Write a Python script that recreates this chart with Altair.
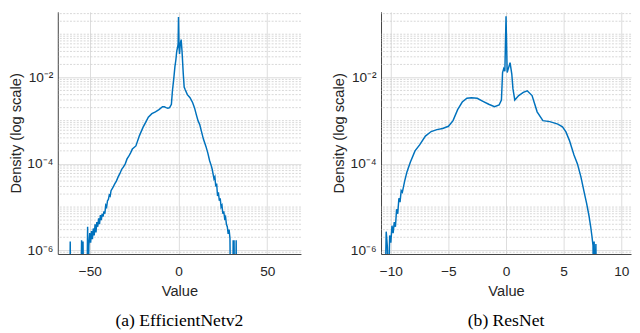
import altair as alt
import pandas as pd

# ---- data ----
eff_value = [-63, -61.2, -61, -60.8, -55, -54.6, -54.2, -53.8, -53.4, -51.6, -51.2, -50.9,
             -50.5, -50, -49.5, -49, -48.5, -48, -47.5, -47, -46.5, -46, -45.5, -45, -44.5,
             -44, -43.5, -43, -42.5, -42, -41.5, -41, -40.5, -40, -39.5, -39, -38.5, -38,
             -37, -36, -35, -34, -33, -32, -31, -30, -29, -28, -27, -26, -24, -22, -20, -18,
             -17, -15, -13, -11, -9, -8, -7, -6, -5, -4, -3.4, -2.7, -2, -1.5, -1, -0.5,
             -0.2, 0, 0.3, 0.6, 1, 1.5, 2, 2.7, 3.2, 3.8, 5, 6.5, 8, 9, 10, 11, 12, 13, 14,
             15.5, 16.5, 17.5, 18.5, 19, 20, 20.5, 21, 21.5, 22, 22.5, 23, 23.5, 24, 24.5,
             25, 25.5, 26, 26.5, 27, 27.5, 28, 28.5, 29, 29.3, 30.6, 30.8, 31, 31.3, 31.6,
             32.3, 32.5, 32.7]
eff_density = [1e-7, 1e-7, 1.6e-6, 1e-7, 1e-7, 1.7e-6, 1e-7, 1.6e-6, 1e-7, 1e-7, 3.5e-6, 1e-7,
               1.3e-6, 2.5e-6, 1.5e-6, 2.8e-6, 1.8e-6, 3.2e-6, 2.2e-6, 4e-6, 2.6e-6, 4.5e-6,
               3.5e-6, 5.5e-6, 4e-6, 6.5e-6, 5e-6, 7e-6, 6e-6, 8e-6, 7e-6, 1.1e-5, 1e-5,
               1.4e-5, 1.5e-5, 1.9e-5, 1.8e-5, 2.4e-5, 2.8e-5, 3.4e-5, 4e-5, 5e-5, 6e-5,
               7.5e-5, 8.5e-5, 1e-4, 1.3e-4, 1.5e-4, 1.8e-4, 2.2e-4, 2.6e-4, 4.5e-4, 7e-4,
               1e-3, 1.2e-3, 1.45e-3, 1.6e-3, 1.8e-3, 2.1e-3, 2.1e-3, 2e-3, 1.95e-3, 2e-3,
               2.4e-3, 5e-3, 9e-3, 0.018, 0.025, 0.04, 0.05, 0.06, 0.25, 0.05, 0.035, 0.06,
               0.075, 0.04, 0.012, 6e-3, 5.2e-3, 4e-3, 3.4e-3, 2.6e-3, 2e-3, 1.4e-3, 1e-3,
               8e-4, 5.5e-4, 3.8e-4, 2.5e-4, 1.8e-4, 1.2e-4, 9e-5, 7.5e-5, 4.5e-5, 5e-5,
               3e-5, 3.5e-5, 1.8e-5, 2.2e-5, 1.4e-5, 1.6e-5, 1e-5, 1.1e-5, 7e-6, 8e-6,
               5.5e-6, 6e-6, 4e-6, 3.5e-6, 2.4e-6, 3e-6, 1.9e-6, 1e-7, 1e-7, 1.7e-6, 1e-7,
               1.7e-6, 1e-7, 1e-7, 1.7e-6, 1e-7]

res_value = [-10.6, -10.5, -10.4, -10.3, -10.2, -10.1, -10.0, -9.9, -9.8, -9.7, -9.6, -9.5,
             -9.4, -9.3, -9.2, -9.1, -9.0, -8.8, -8.6, -8.3, -7.9, -7.5, -7.0, -6.5, -6.0,
             -5.5, -5.0, -4.6, -4.2, -3.8, -3.4, -3.0, -2.5, -2.0, -1.5, -1.0, -0.6, -0.4,
             -0.3, -0.2, -0.1, 0.0, 0.1, 0.2, 0.35, 0.5, 0.6, 0.76, 1.1, 1.5, 1.84, 2.26,
             2.7, 3.2, 3.8, 4.5, 4.9, 5.2, 5.5, 5.9, 6.2, 6.5, 6.8, 7.0, 7.2, 7.35, 7.45,
             7.55, 7.6, 7.65, 7.7, 7.8, 7.85]
res_density = [1e-7, 1e-7, 2.7e-6, 1.2e-6, 1e-7, 2.2e-6, 1.5e-6, 3.7e-6, 2.5e-6, 4.5e-6,
               3.5e-6, 8.9e-6, 7e-6, 1.6e-5, 1.3e-5, 2.4e-5, 2.2e-5, 4e-5, 6.5e-5, 1.1e-4,
               2e-4, 2.75e-4, 4.4e-4, 5.6e-4, 6.2e-4, 6.6e-4, 7.4e-4, 1e-3, 1.8e-3, 2.7e-3,
               3.3e-3, 3.4e-3, 3.3e-3, 2.8e-3, 2.4e-3, 2.1e-3, 2.3e-3, 3e-3, 0.013, 0.016,
               0.014, 0.26, 0.013, 0.016, 0.022, 0.012, 5.5e-3, 3e-3, 3.8e-3, 4.5e-3, 4.9e-3,
               3.8e-3, 1.6e-3, 1e-3, 9.5e-4, 8.3e-4, 7.2e-4, 5.5e-4, 3.5e-4, 1.6e-4, 1e-4,
               5e-5, 2.1e-5, 1.2e-5, 6.3e-6, 3.5e-6, 2.2e-6, 1.3e-6, 1e-7, 1.6e-6, 1e-7,
               1.4e-6, 1e-7]

assert len(eff_value) == len(eff_density)
assert len(res_value) == len(res_density)

y_ticks = [1e-6, 1e-4, 1e-2]
y_tick_labels = ["10⁻⁶", "10⁻⁴", "10⁻²"]
eff_xticks = [-50, 0, 50]
res_xticks = [-10, -5, 0, 5, 10]
captions = ["(a) EfficientNetv2", "(b) ResNet"]

Y_DOMAIN = [8.2e-7, 0.33]
# minor (dotted) log grid positions: every 1..9 x 10^k except the labelled decades
minor_grid = [m * 10.0 ** e for e in range(-7, 0) for m in range(1, 10)]
minor_grid = [g for g in minor_grid
              if Y_DOMAIN[0] <= g <= Y_DOMAIN[1]
              and all(abs(g - t) / t > 1e-6 for t in y_ticks)]

FONT = "Liberation Sans"
TXT = "#262626"
LINE = "#0072BD"

label_expr = " : ".join(
    f"datum.value < {t * 3:g} ? '{lab}'" for t, lab in zip(y_ticks[:-1], y_tick_labels[:-1])
) + f" : '{y_tick_labels[-1]}'"


def panel(xs, ds, xdom, xticks, caption, width):
    df = pd.DataFrame({"Value": xs, "Density": ds})
    gdf = pd.DataFrame({"g": minor_grid})
    yscale = alt.Scale(type="log", domain=Y_DOMAIN, nice=False)
    yaxis = alt.Axis(values=y_ticks, labelExpr=label_expr, title="Density (log scale)",
                     grid=True, gridColor="#dcdcdc", gridWidth=1, ticks=False,
                     domainColor="#404040", domainWidth=1,
                     labelFont=FONT, labelFontSize=14, labelColor=TXT, labelPadding=5,
                     titleFont=FONT, titleFontSize=15, titleFontWeight="normal",
                     titleColor=TXT, titlePadding=4)
    xaxis = alt.Axis(values=xticks, title="Value", grid=True, gridColor="#dcdcdc",
                     gridWidth=1, ticks=False, domainColor="#404040", domainWidth=1,
                     labelFont=FONT, labelFontSize=14, labelColor=TXT, labelPadding=11,
                     titleFont=FONT, titleFontSize=15, titleFontWeight="normal",
                     titleColor=TXT, titlePadding=5)
    xscale = alt.Scale(domain=xdom, nice=False, zero=False)
    rules = alt.Chart(gdf).mark_rule(color="#cdcdcd", strokeDash=[2, 1.5], strokeWidth=0.8).encode(
        y=alt.Y("g:Q", scale=yscale, axis=yaxis)
    )
    line = alt.Chart(df).mark_line(color=LINE, strokeWidth=1.5, clip=True).encode(
        x=alt.X("Value:Q", scale=xscale, axis=xaxis),
        y=alt.Y("Density:Q", scale=yscale, axis=yaxis),
    )
    return alt.layer(rules, line).properties(
        width=width, height=248,
        title=alt.TitleParams(caption, orient="bottom", font="Liberation Serif", fontSize=18,
                              fontWeight="normal", color="black", offset=15),
    )


left = panel(eff_value, eff_density, [-68, 69], eff_xticks, captions[0], 249)
right = panel(res_value, res_density, [-10.85, 10.85], res_xticks, captions[1], 256)

chart = alt.hconcat(left, right, spacing=30).properties(
    padding={"left": 0, "top": 0, "right": 0, "bottom": 0}
).configure_view(stroke=None)

chart.save("out.html", embed_options={"renderer": "svg", "actions": False})
